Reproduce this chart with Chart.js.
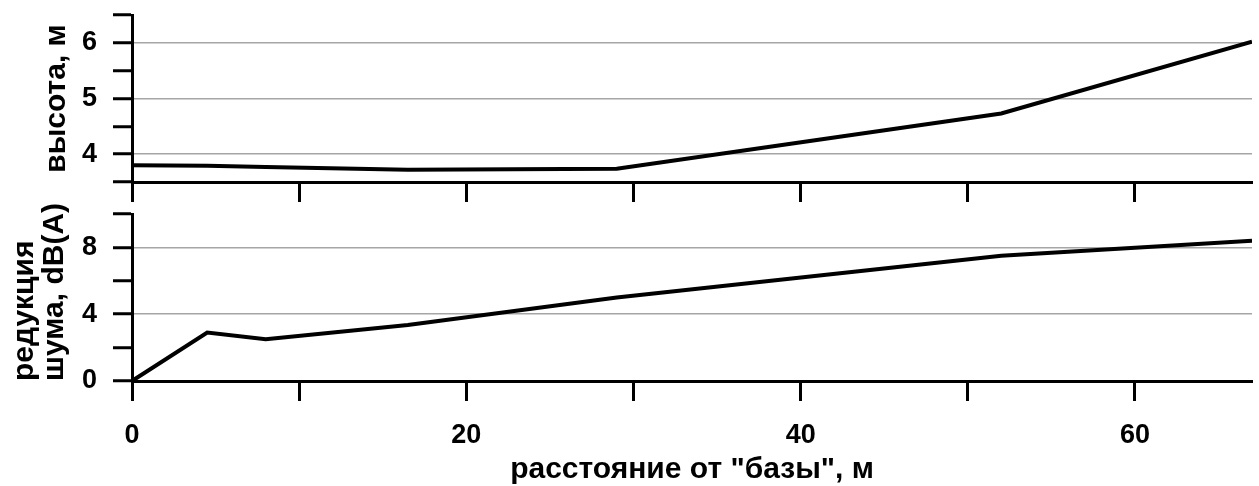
<!DOCTYPE html>
<html>
<head>
<meta charset="utf-8">
<script src="https://cdn.jsdelivr.net/npm/chart.js@4/dist/chart.umd.min.js"></script>
<style>
  html, body { margin: 0; padding: 0; background: #fff; }
  #wrap { position: relative; width: 1259px; height: 486px; }
  .panel { position: absolute; left: 0; width: 1259px; }
  #top-panel { top: 0; height: 205px; }
  #bottom-panel { top: 200px; height: 286px; }
</style>
</head>
<body>
<div id="wrap">
  <div class="panel" id="top-panel"><canvas id="height-chart"></canvas></div>
  <div class="panel" id="bottom-panel"><canvas id="noise-chart"></canvas></div>
</div>
<script>
// data
const distance = [0, 4.5, 8, 16.5, 29, 52, 67]
const height = [3.80, 3.79, 3.77, 3.72, 3.74, 4.73, 6.02]
const noise = [0, 2.9, 2.5, 3.35, 5.0, 7.5, 8.4]

// tick positions (marks) and which of them get a label
const heightMarks = [3.5, 4, 4.5, 5, 5.5, 6, 6.5]
const heightLabels = [4, 5, 6]
const noiseMarks = [0, 2, 4, 6, 8, 10]
const noiseLabels = [0, 4, 8]
const xMarks = [0, 10, 20, 30, 40, 50, 60]
const xLabels = [0, 20, 40, 60]

const FONT = "'Liberation Sans', Arial, sans-serif"
const AXIS_W = 132

const toPoints = ys => distance.map((x, i) => ({ x: x, y: ys[i] }))

const lineDataset = ys => ({
  data: toPoints(ys),
  borderColor: '#000',
  borderWidth: 4,
  pointRadius: 0,
  tension: 0,
  fill: false
})

const setTicks = marks => scale => {
  scale.ticks = marks.map(v => ({ value: v }))
}

const xScale = showLabels => ({
  type: 'linear',
  min: 0,
  max: 67,
  afterBuildTicks: setTicks(xMarks),
  afterFit: scale => {
    scale.height = showLabels ? 105 : 23
    scale.paddingLeft = 0
    scale.paddingRight = 0
  },
  border: { display: true, color: '#000', width: 3 },
  grid: {
    drawOnChartArea: false,
    drawTicks: true,
    tickLength: 20,
    tickColor: '#000',
    tickWidth: 3
  },
  ticks: {
    display: showLabels,
    padding: 18,
    color: '#000',
    font: { family: FONT, size: 27, weight: 'bold' },
    maxRotation: 0,
    autoSkip: false,
    callback: v => xLabels.includes(v) ? String(v) : ''
  },
  title: {
    display: showLabels,
    text: 'расстояние от "базы", м',
    color: '#000',
    font: { family: FONT, size: 30, weight: 'bold', lineHeight: 1.0 },
    padding: { top: 0, bottom: 1 }
  }
})

const yScale = (min, max, marks, labels, title, titlePad, align) => ({
  min: min,
  max: max,
  afterBuildTicks: setTicks(marks),
  afterFit: scale => {
    scale.width = AXIS_W
    scale.paddingTop = 0
    scale.paddingBottom = 0
  },
  border: { display: true, color: '#000', width: 3 },
  grid: {
    color: ctx => labels.includes(ctx.tick && ctx.tick.value) ? '#a6a6a6' : 'rgba(0,0,0,0)',
    lineWidth: 1.5,
    tickLength: 19,
    tickColor: '#000',
    tickWidth: 3
  },
  ticks: {
    padding: 16,
    color: '#000',
    autoSkip: false,
    font: { family: FONT, size: 27, weight: 'bold' },
    callback: v => labels.includes(v) ? String(v) : ''
  },
  title: {
    display: true,
    text: title,
    align: align,
    color: '#000',
    font: { family: FONT, size: 30, weight: 'bold', lineHeight: 1.0 },
    padding: { top: titlePad, bottom: 0 }
  }
})

const baseOptions = {
  responsive: true,
  maintainAspectRatio: false,
  animation: false,
  plugins: { legend: { display: false }, tooltip: { enabled: false } }
}

// top panel: height
new Chart(document.getElementById('height-chart'), {
  type: 'line',
  data: { datasets: [lineDataset(height)] },
  options: {
    ...baseOptions,
    layout: { padding: { top: 15, right: 7, left: 0, bottom: 0 } },
    scales: {
      x: xScale(false),
      y: yScale(3.5, 6.5, heightMarks, heightLabels, 'высота, м', 42, 'center')
    }
  }
})

// bottom panel: noise reduction
new Chart(document.getElementById('noise-chart'), {
  type: 'line',
  data: { datasets: [lineDataset(noise)] },
  options: {
    ...baseOptions,
    layout: { padding: { top: 14, right: 7, left: 0, bottom: 0 } },
    scales: {
      x: xScale(true),
      y: yScale(0, 10, noiseMarks, noiseLabels, ['редукция', 'шума, dB(A)'], 10, 'start')
    }
  }
})
</script>
</body>
</html>
